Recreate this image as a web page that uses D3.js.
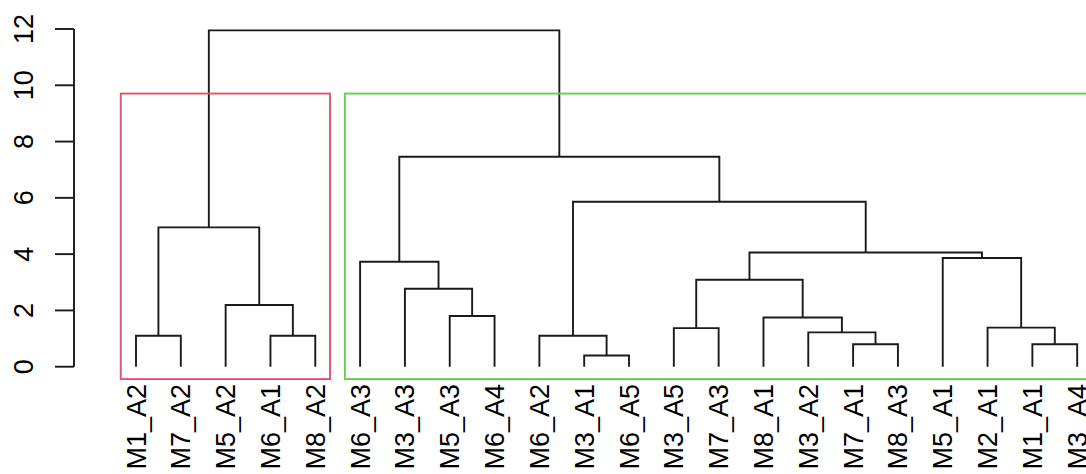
<!DOCTYPE html>
<html>
<head>
<meta charset="utf-8">
<script src="https://cdn.jsdelivr.net/npm/d3@7"></script>
<style>
  html, body { margin: 0; padding: 0; background: #fff; }
  svg { display: block; }
  text { font-family: "Liberation Sans", Arial, sans-serif; }
</style>
</head>
<body>
<svg id="chart" width="1086" height="474"></svg>
<script>
// Leaf labels in dendrogram order
const leafLabels = ["M1_A2","M7_A2","M5_A2","M6_A1","M8_A2","M6_A3","M3_A3","M5_A3","M6_A4",
  "M6_A2","M3_A1","M6_A5","M3_A5","M7_A3","M8_A1","M3_A2","M7_A1","M8_A3","M5_A1","M2_A1","M1_A1","M3_A4"];
// hclust-style merge matrix: negative = leaf (1-based position in leafLabels), positive = earlier merge step
const mergeLeft  = [-11,-17,-21,-1,-4,-10,-16,-13,-20,-15,-8,-3,-7, 8,-6,-19,14, 4, 6,15,18];
const mergeRight = [-12,-18,-22,-2,-5,  1,  2,-14,  3,  7,-9, 5,11,10,13,  9,16,12,17,19,20];
const mergeHeights = [0.40,0.80,0.80,1.10,1.10,1.10,1.22,1.37,1.39,1.75,1.80,2.19,2.77,3.09,3.73,3.86,4.06,4.95,5.86,7.46,11.95];
// y axis ticks
const yTicks = [0,2,4,6,8,10,12];
// rect.hclust clusters (k = 2): sizes in leaf order and border colours
const clusterSizes = [5, 17];
const clusterColors = ["#DF536B", "#61D04F"];

const svg = d3.select("#chart");
const x = d3.scaleLinear().domain([1, leafLabels.length]).range([136, 1077.2]);
const y = d3.scaleLinear().domain([0, 12]).range([366.7, 29]);
const usrBottom = -0.44;

// compute node positions
const nodeX = [], nodeH = [];
function childPos(c) {
  if (c < 0) return { x: x(-c), h: 0 };
  return { x: nodeX[c - 1], h: nodeH[c - 1] };
}
const segs = [];
mergeLeft.forEach((l, i) => {
  const a = childPos(l), b = childPos(mergeRight[i]);
  const h = mergeHeights[i];
  nodeX.push((a.x + b.x) / 2);
  nodeH.push(h);
  segs.push(`M${a.x},${y(a.h)}V${y(h)}H${b.x}V${y(b.h)}`);
});

svg.append("g").selectAll("path").data(segs).join("path")
  .attr("d", d => d)
  .attr("fill", "none")
  .attr("stroke", "#1a1a1a")
  .attr("stroke-width", 1.9);

// y axis
const ax = svg.append("g");
ax.append("line").attr("x1", 74).attr("x2", 74)
  .attr("y1", y(yTicks[0])).attr("y2", y(yTicks[yTicks.length - 1]))
  .attr("stroke", "#1a1a1a").attr("stroke-width", 1.9);
ax.selectAll("line.tick").data(yTicks).join("line").attr("class", "tick")
  .attr("x1", 55).attr("x2", 74).attr("y1", d => y(d)).attr("y2", d => y(d))
  .attr("stroke", "#1a1a1a").attr("stroke-width", 1.9);
ax.selectAll("text").data(yTicks).join("text")
  .attr("transform", d => `translate(33,${y(d)}) rotate(-90)`)
  .attr("text-anchor", "middle")
  .attr("font-size", 27)
  .attr("fill", "#000")
  .text(d => d);

// leaf labels
svg.append("g").selectAll("text").data(leafLabels).join("text")
  .attr("transform", (d, i) => `translate(${x(i + 1) + 9.5},384) rotate(-90)`)
  .attr("text-anchor", "end")
  .attr("font-size", 27)
  .attr("fill", "#000")
  .text(d => d);

// cluster rectangles
const cutH = (mergeHeights[mergeHeights.length - 1] + mergeHeights[mergeHeights.length - 2]) / 2;
let cum = 0;
const rects = clusterSizes.map((s, i) => {
  const r = { x0: cum + 0.66, x1: cum + s + 0.33, color: clusterColors[i] };
  cum += s;
  return r;
});
svg.append("g").selectAll("rect").data(rects).join("rect")
  .attr("x", d => x(d.x0))
  .attr("width", d => x(d.x1) - x(d.x0))
  .attr("y", y(cutH))
  .attr("height", y(usrBottom) - y(cutH))
  .attr("fill", "none")
  .attr("stroke", d => d.color)
  .attr("stroke-width", 1.9);
</script>
</body>
</html>
